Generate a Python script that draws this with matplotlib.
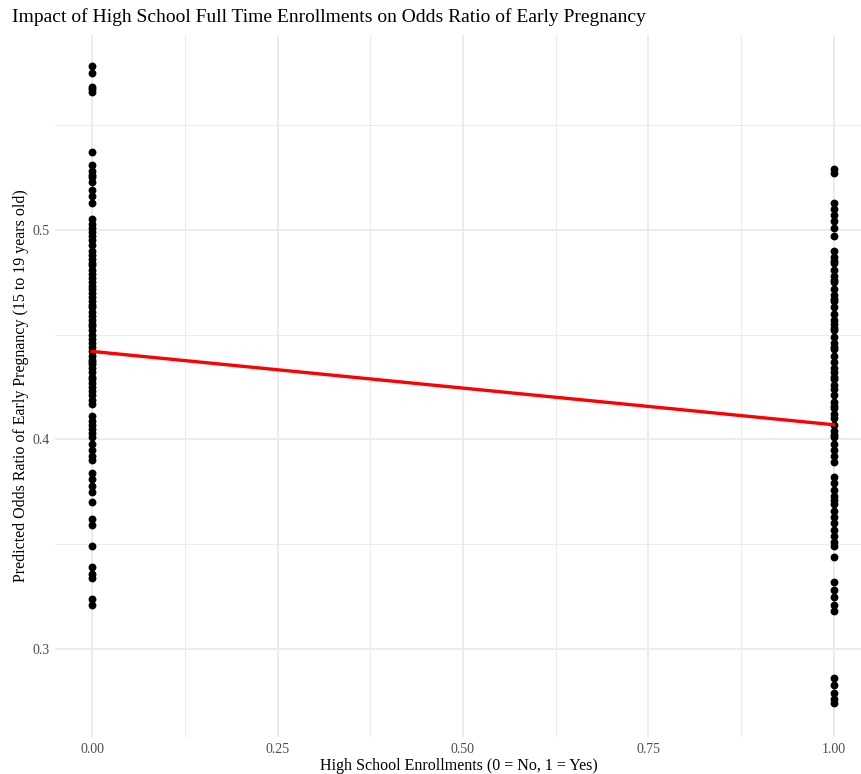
import matplotlib.pyplot as plt
from matplotlib.ticker import MultipleLocator

# predicted odds ratio, not enrolled (x = 0)
pred_not_enrolled = [
    0.578, 0.575, 0.568, 0.566, 0.567, 0.537,
    0.531, 0.528, 0.526, 0.525, 0.523, 0.519, 0.516, 0.513,
    0.505, 0.503, 0.501, 0.499, 0.497, 0.495, 0.493, 0.490, 0.488, 0.486,
    0.484, 0.483, 0.481, 0.479, 0.477, 0.475, 0.473, 0.472, 0.470, 0.468,
    0.466, 0.464, 0.463, 0.461, 0.459, 0.457, 0.455, 0.454, 0.452, 0.450,
    0.448, 0.446, 0.444, 0.442, 0.440, 0.438, 0.437, 0.436, 0.434, 0.432,
    0.430, 0.429, 0.427, 0.425, 0.423, 0.421, 0.419, 0.417,
    0.411, 0.409, 0.407, 0.405, 0.403, 0.401,
    0.398, 0.395, 0.392, 0.390, 0.384, 0.381, 0.378, 0.375, 0.370,
    0.362, 0.359, 0.349, 0.339, 0.336, 0.334, 0.324, 0.321,
]

# predicted odds ratio, enrolled (x = 1)
pred_enrolled = [
    0.529, 0.527, 0.513, 0.510, 0.507, 0.504, 0.501, 0.497,
    0.490, 0.487, 0.485, 0.484, 0.481, 0.478, 0.476, 0.475, 0.472, 0.469,
    0.467, 0.466, 0.463, 0.460, 0.457, 0.455, 0.453, 0.452, 0.449, 0.446,
    0.444, 0.443, 0.440, 0.437, 0.434, 0.432, 0.430, 0.429, 0.426, 0.424,
    0.421, 0.418, 0.416, 0.415, 0.412, 0.410, 0.407, 0.404, 0.402, 0.401,
    0.398, 0.395, 0.392, 0.389,
    0.382, 0.379, 0.376, 0.373, 0.371,
    0.369, 0.366, 0.363, 0.360, 0.357, 0.354, 0.351, 0.349, 0.344,
    0.332, 0.328, 0.325, 0.321, 0.318,
    0.286, 0.283, 0.279, 0.276, 0.274,
]

# fitted lm line
fit_x = [0, 1]
fit_y = [0.442, 0.407]

x_ticks = [0.0, 0.25, 0.5, 0.75, 1.0]
x_tick_labels = ["0.00", "0.25", "0.50", "0.75", "1.00"]
y_ticks = [0.3, 0.4, 0.5]

plt.rcParams['font.family'] = ['Liberation Serif', 'DejaVu Serif']

fig = plt.figure(figsize=(8.62, 7.74), dpi=100)
ax = fig.add_axes([0.0638, 0.0478, 0.9362, 0.907])

ax.scatter([0] * len(pred_not_enrolled), pred_not_enrolled, s=32, color='black', zorder=3, linewidths=0)
ax.scatter([1] * len(pred_enrolled), pred_enrolled, s=32, color='black', zorder=3, linewidths=0)
ax.plot(fit_x, fit_y, color='red', linewidth=2.4, zorder=4)

ax.set_xlim(-0.05, 1.038)
ax.set_ylim(0.258, 0.593)
ax.set_xticks(x_ticks)
ax.set_xticklabels(x_tick_labels)
ax.set_yticks(y_ticks)
ax.set_yticklabels([str(v) for v in y_ticks])
ax.xaxis.set_minor_locator(MultipleLocator(0.125))
ax.yaxis.set_minor_locator(MultipleLocator(0.05))

ax.grid(which='major', color='#EBEBEB', linewidth=1.3)
ax.grid(which='minor', color='#EBEBEB', linewidth=0.7)
ax.set_axisbelow(True)
for s in ax.spines.values():
    s.set_visible(False)
ax.tick_params(which='both', length=0, labelsize=10, labelcolor='#4D4D4D', pad=4)

ax.set_xlabel("High School Enrollments (0 = No, 1 = Yes)", fontsize=11.5, labelpad=2)
ax.set_ylabel("Predicted Odds Ratio of Early Pregnancy (15 to 19 years old)", fontsize=11.5, labelpad=2)
fig.text(0.014, 0.978, "Impact of High School Full Time Enrollments on Odds Ratio of Early Pregnancy",
         fontsize=14, va='center', ha='left')

fig.savefig("out.png", dpi=100)
